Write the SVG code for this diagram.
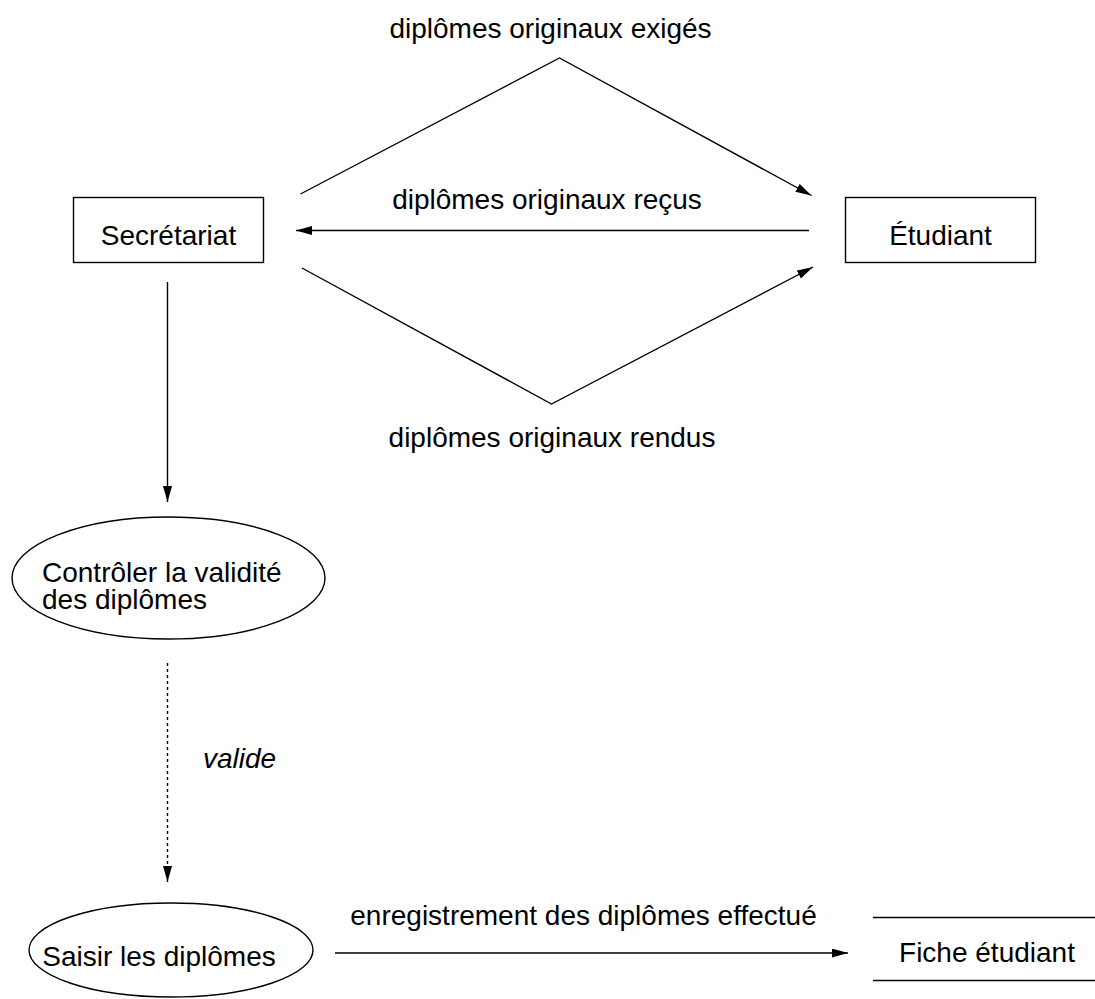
<svg xmlns="http://www.w3.org/2000/svg" width="1095" height="999" viewBox="0 0 1095 999">
  <style>
    text { font-family: "Liberation Sans", Arial, sans-serif; font-size: 28px; fill: #000; }
    .mid { text-anchor: middle; }
    .shape { fill: #fff; stroke: #000; stroke-width: 1.4; }
    .flow { fill: none; stroke: #000; stroke-width: 1.4; marker-end: url(#head); }
    .dotted { stroke-dasharray: 3 3; }
    .store { stroke: #000; stroke-width: 1.4; }
  </style>
  <defs>
    <marker id="head" markerUnits="userSpaceOnUse" markerWidth="17" markerHeight="10" refX="16" refY="4.5" orient="auto">
      <path d="M0,0 L16,4.5 L0,9 z" fill="#000"/>
    </marker>
  </defs>
  <rect width="1095" height="999" fill="#fff"/>

  <!-- connectors -->
  <g id="connectors">
    <polyline class="flow" points="300.5,194 559.5,58 811.5,195.5"/>
    <line class="flow" x1="809" y1="230.5" x2="296" y2="230.5"/>
    <polyline class="flow" points="302,268 551.5,404 813,267"/>
    <line class="flow" x1="167.5" y1="282" x2="167.5" y2="502"/>
    <line class="flow dotted" x1="167.5" y1="663" x2="167.5" y2="882"/>
    <line class="flow" x1="335" y1="953" x2="848" y2="953"/>
    <text class="mid" x="550.5" y="38">diplômes originaux exigés</text>
    <text class="mid" x="547" y="209">diplômes originaux reçus</text>
    <text class="mid" x="552" y="447">diplômes originaux rendus</text>
    <text x="203" y="768" font-style="italic">valide</text>
    <text class="mid" x="583.5" y="925">enregistrement des diplômes effectué</text>
  </g>

  <!-- external entities -->
  <g id="secretariat">
    <rect class="shape" x="73.5" y="197.5" width="190" height="65"/>
    <text class="mid" x="168.5" y="245">Secrétariat</text>
  </g>
  <g id="etudiant">
    <rect class="shape" x="845.5" y="197.5" width="190" height="65"/>
    <text class="mid" x="940.5" y="245">Étudiant</text>
  </g>

  <!-- processes -->
  <g id="controler">
    <ellipse class="shape" cx="168.5" cy="578" rx="156.5" ry="61"/>
    <text x="42" y="582">Contrôler la validité<tspan x="42" dy="27">des diplômes</tspan></text>
  </g>
  <g id="saisir">
    <ellipse class="shape" cx="171" cy="950" rx="142" ry="47"/>
    <text class="mid" x="159" y="966">Saisir les diplômes</text>
  </g>

  <!-- data store -->
  <g id="fiche">
    <line class="store" x1="873" y1="917.5" x2="1095" y2="917.5"/>
    <line class="store" x1="873" y1="980.5" x2="1095" y2="980.5"/>
    <text class="mid" x="987" y="962">Fiche étudiant</text>
  </g>
</svg>
